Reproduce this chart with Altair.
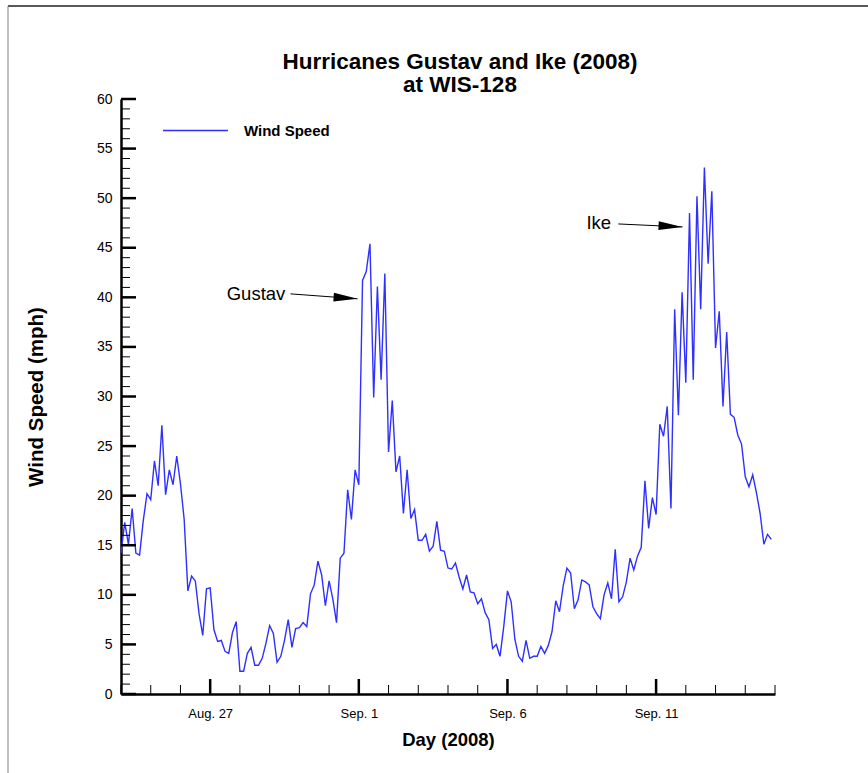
import altair as alt
import pandas as pd

# ---------------- data (3-hourly wind speed, mph, from 2008-08-24 00:00 UTC) ----------------
START = "2008-08-24"
wind_speed = [
    14.2, 17.3, 15.1, 18.7, 14.2, 14.0, 17.5, 20.2, 19.6, 23.5,
    21.0, 27.1, 20.1, 22.6, 21.1, 24.0, 21.2, 17.6, 10.4, 11.9,
    11.4, 8.1, 5.9, 10.6, 10.7, 6.5, 5.3, 5.4, 4.3, 4.1,
    6.2, 7.3, 2.3, 2.3, 4.1, 4.7, 2.9, 2.9, 3.6, 5.1,
    6.9, 6.1, 3.2, 3.8, 5.4, 7.5, 4.7, 6.6, 6.7, 7.2,
    6.8, 10.1, 11.0, 13.4, 12.0, 8.9, 11.4, 9.6, 7.2, 13.7,
    14.2, 20.6, 17.6, 22.6, 21.1, 41.7, 42.6, 45.4, 29.9, 41.1,
    31.7, 42.4, 24.4, 29.6, 22.4, 24.0, 18.2, 22.6, 17.7, 18.6,
    15.5, 15.5, 16.1, 14.4, 14.9, 17.4, 14.5, 14.4, 12.7, 12.6,
    13.2, 11.8, 10.6, 12.0, 10.3, 10.2, 9.1, 9.6, 8.2, 7.5,
    4.6, 5.0, 3.8, 6.8, 10.4, 9.3, 5.5, 3.8, 3.3, 5.4,
    3.6, 3.8, 3.8, 4.8, 4.1, 4.9, 6.3, 9.4, 8.3, 10.9,
    12.7, 12.2, 8.6, 9.5, 11.5, 11.3, 11.0, 8.8, 8.1, 7.6,
    10.0, 11.2, 9.6, 14.6, 9.3, 9.8, 11.3, 13.7, 12.5, 13.9,
    14.8, 21.5, 16.7, 19.8, 18.1, 27.2, 26.0, 29.0, 18.7, 38.8,
    28.1, 40.5, 31.4, 48.5, 31.7, 50.2, 38.8, 53.1, 43.4, 50.7,
    34.9, 38.6, 29.0, 36.5, 28.2, 27.9, 26.1, 25.2, 21.9, 20.9,
    22.1, 20.3, 18.2, 15.1, 16.1, 15.6,
]
series_name = "Wind Speed"

x_label_days = [(8, 27), (9, 1), (9, 6), (9, 11)]          # labelled (major) ticks
x_minor_days = pd.date_range("2008-08-24", "2008-09-15", freq="D").strftime("%Y-%m-%dT00:00:00Z").tolist()
x_major_days = ["2008-08-27T00:00:00Z", "2008-09-01T00:00:00Z", "2008-09-06T00:00:00Z", "2008-09-11T00:00:00Z"]
y_major = list(range(0, 61, 5))
y_minor = list(range(0, 61))

ann_labels = ["Gustav", "Ike"]
ann_text_time = ["2008-08-29T12:40:00Z", "2008-09-09T11:40:00Z"]
ann_text_value = [40.3, 47.5]
arrow_t0 = ["2008-08-29T16:50:00Z", "2008-09-09T17:30:00Z"]
arrow_v0 = [40.35, 47.4]
arrow_t1 = ["2008-08-31T23:00:00Z", "2008-09-11T21:20:00Z"]
arrow_v1 = [39.85, 47.1]
arrow_angle = [4, 3]

# ---------------- tables ----------------
times = pd.date_range(START, periods=len(wind_speed), freq="3h").strftime("%Y-%m-%dT%H:%M:%SZ")
df = pd.DataFrame({"time": times, "speed": wind_speed, "series": series_name})
ann_df = pd.DataFrame({"label": ann_labels, "time": ann_text_time, "value": ann_text_value})
arrow_df = pd.DataFrame({"t0": arrow_t0, "v0": arrow_v0, "t1": arrow_t1, "v1": arrow_v1, "angle": arrow_angle})

FONT = "Liberation Sans"
LINE_COLOR = "#2f2fff"

xscale = alt.Scale(
    type="utc",
    domain=[alt.DateTime(year=2008, month=8, date=24, utc=True),
            alt.DateTime(year=2008, month=9, date=15, utc=True)],
)
yscale = alt.Scale(domain=[0, 60], nice=False, zero=True)

x_axis = alt.Axis(
    values=[alt.DateTime(year=2008, month=m, date=d, utc=True) for m, d in x_label_days],
    labelExpr="utcFormat(datum.value, '%b. %-d')",
    title="Day (2008)",
    ticks=False, grid=False,
    domainWidth=2.5, domainColor="black",
    labelFontSize=13, labelPadding=13, labelColor="black",
    titleFontSize=18.5, titleFontWeight="bold", titlePadding=10, titleColor="black",
)
y_axis = alt.Axis(
    values=y_major,
    title="Wind Speed (mph)",
    ticks=False, grid=False,
    domainWidth=2.5, domainColor="black",
    labelFontSize=14, labelPadding=9, labelColor="black",
    titleFontSize=20.5, titleFontWeight="bold", titlePadding=50, titleColor="black",
)

line = alt.Chart(df).mark_line(strokeWidth=1.4).encode(
    x=alt.X("time:T", scale=xscale, axis=x_axis),
    y=alt.Y("speed:Q", scale=yscale, axis=y_axis),
    color=alt.Color(
        "series:N",
        scale=alt.Scale(range=[LINE_COLOR]),
        legend=alt.Legend(
            title=None, orient="none", legendX=41, legendY=-2,
            symbolType="stroke", symbolSize=4225, symbolStrokeWidth=1.3,
            labelFontSize=15, labelFontWeight="bold", labelOffset=15, labelColor="black",
            padding=0,
        ),
    ),
)

# inward tick marks
x_minor = alt.Chart(pd.DataFrame({"day": x_minor_days})).mark_tick(
    orient="vertical", size=9, thickness=1, color="black", yOffset=-4.5, opacity=1
).encode(x=alt.X("day:T", scale=xscale), y=alt.datum(0))
x_major = alt.Chart(pd.DataFrame({"day": x_major_days})).mark_tick(
    orient="vertical", size=15, thickness=2.5, color="black", yOffset=-7.5, opacity=1
).encode(x=alt.X("day:T", scale=xscale), y=alt.datum(0))
y_minor_t = alt.Chart(pd.DataFrame({"v": y_minor})).mark_tick(
    orient="horizontal", size=9, thickness=1, color="black", xOffset=4.5, opacity=1
).encode(y=alt.Y("v:Q", scale=yscale), x=alt.value(0))
y_major_t = alt.Chart(pd.DataFrame({"v": y_major})).mark_tick(
    orient="horizontal", size=15, thickness=2.5, color="black", xOffset=7.5, opacity=1
).encode(y=alt.Y("v:Q", scale=yscale), x=alt.value(0))

# annotations
ann_text = alt.Chart(ann_df).mark_text(
    align="right", baseline="middle", fontSize=18.5, font=FONT, color="black"
).encode(x=alt.X("time:T", scale=xscale), y=alt.Y("value:Q", scale=yscale), text="label:N")
shafts = alt.Chart(arrow_df).mark_rule(color="black", strokeWidth=1).encode(
    x=alt.X("t0:T", scale=xscale), y=alt.Y("v0:Q", scale=yscale),
    x2="t1:T", y2="v1:Q",
)
heads = alt.Chart(arrow_df).mark_point(
    shape="M0,0L-1,-0.18L-1,0.18Z", filled=True, color="black", size=2304, opacity=1, strokeWidth=0
).encode(
    x=alt.X("t1:T", scale=xscale), y=alt.Y("v1:Q", scale=yscale),
    angle=alt.Angle("angle:Q", scale=None),
)

# figure frame (top and left edges)
frame_top = alt.Chart(pd.DataFrame({"a": [0]})).mark_rule(color="#222222", strokeWidth=1.5).encode(
    x=alt.value(-113), x2=alt.value(747), y=alt.value(-93)
)
frame_left = alt.Chart(pd.DataFrame({"a": [0]})).mark_rule(color="#808080", strokeWidth=1).encode(
    x=alt.value(-113), y=alt.value(-93), y2=alt.value(680)
)

chart = alt.layer(
    frame_top, frame_left, line, x_minor, x_major, y_minor_t, y_major_t, shafts, heads, ann_text
).properties(
    width=654, height=595,
    padding={"left": 121, "top": 99, "right": 93, "bottom": 79},
    autosize=alt.AutoSizeParams(type="none"),
    title=alt.TitleParams(
        text=["Hurricanes Gustav and Ike (2008)", "at WIS-128"],
        fontSize=22.5, fontWeight="bold", font=FONT, color="black",
        anchor="middle", dx=12, offset=-91, lineHeight=23,
    ),
).configure(font=FONT).configure_view(stroke=None)

chart.save("out.html", embed_options={"renderer": "svg", "actions": False})
